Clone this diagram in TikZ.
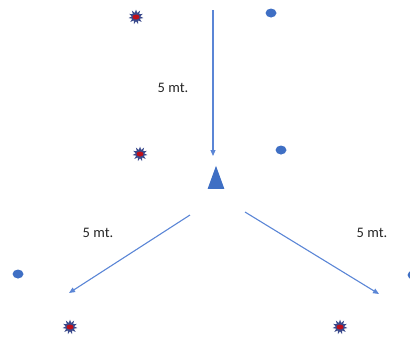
\documentclass[tikz,border=0pt]{standalone}
\usepackage{fontspec}
\setmainfont{Carlito}
\usetikzlibrary{shapes.geometric,arrows.meta}
\definecolor{arr}{HTML}{5B86D6}
\definecolor{dotc}{HTML}{3F6FC4}
\definecolor{spk}{HTML}{3B4A8C}
\definecolor{redc}{HTML}{C0101A}
\tikzset{
  arrowline/.style={draw=arr,line width=1.1pt,-{Triangle[length=6pt,width=5pt]}},
  dotb/.style={ellipse,fill=dotc,minimum width=11pt,minimum height=9pt,inner sep=0pt},
  lbl/.style={font=\fontsize{14.5pt}{16pt}\selectfont,text=black!85},
  cone/.style={isosceles triangle,shape border rotate=90,isosceles triangle apex angle=40,fill=dotc,minimum height=23pt,minimum width=16pt,inner sep=0pt}
}
\newcommand{\mystar}[2]{%
  \node[star,star points=11,star point ratio=1.8,fill=spk,minimum size=15pt,inner sep=0pt] (#1) at #2 {};
  \node[ellipse,fill=redc,minimum width=7pt,minimum height=5pt,inner sep=0pt] at #2 {};
}
\begin{document}
\begin{tikzpicture}[x=1pt,y=-1pt]
\useasboundingbox (0,0) rectangle (410,341);
\mystar{s1}{(136,17)}
\mystar{s2}{(140,154)}
\mystar{s3}{(70,327)}
\mystar{s4}{(340,327)}
\node[dotb] (d1) at (271,13) {};
\node[dotb] (d2) at (281,150) {};
\node[dotb] (d3) at (18,274) {};
\node[dotb] (d4) at (413,275) {};
\node[cone] (t) at (216,183) {};
\coordinate (a0) at (213,10);
\coordinate (a1) at (213,156);
\coordinate (b0) at (190,215);
\coordinate (b1) at (69,293);
\coordinate (c0) at (245,212);
\coordinate (c1) at (379,294);
\draw[arrowline] (a0) -- (a1);
\draw[arrowline] (b0) -- (b1);
\draw[arrowline] (c0) -- (c1);
\node[lbl] (l1) at (173,88) {5 mt.};
\node[lbl] (l2) at (98,233) {5 mt.};
\node[lbl] (l3) at (372,233) {5 mt.};
\end{tikzpicture}
\end{document}
